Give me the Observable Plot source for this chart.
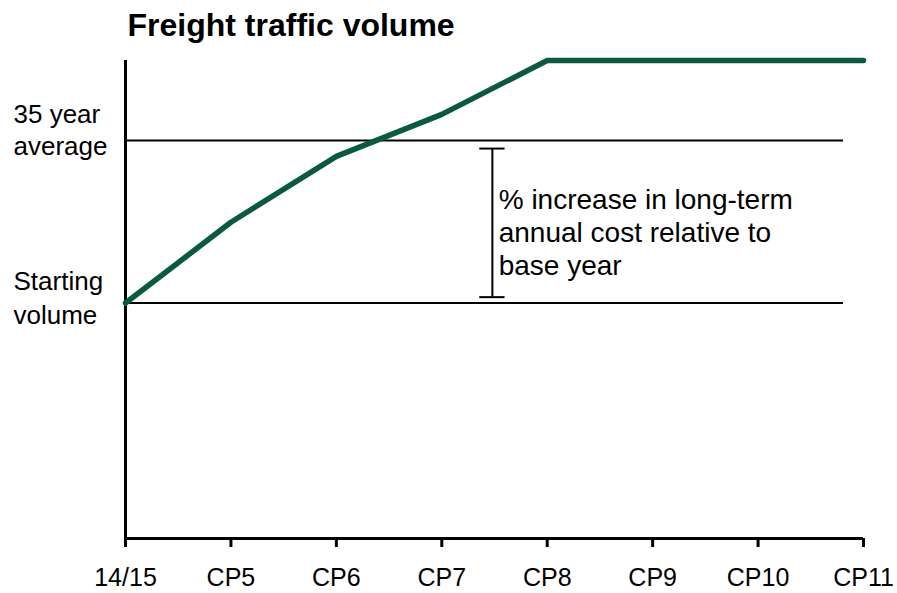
<!DOCTYPE html>
<html>
<head>
<meta charset="utf-8">
<script src="https://cdn.jsdelivr.net/npm/d3@7"></script>
<script src="https://cdn.jsdelivr.net/npm/@observablehq/plot@0.6"></script>
<style>
  html, body { margin: 0; padding: 0; background: #ffffff; }
  #chart { width: 897px; height: 593px; }
</style>
</head>
<body>
<div id="chart"></div>
<script>
// ---- Data ----
const title = "Freight traffic volume";
const periods = ["14/15", "CP5", "CP6", "CP7", "CP8", "CP9", "CP10", "CP11"];
const volume = [100, 134.3, 162.3, 180.1, 203, 203, 203, 203];
const startingVolume = 100;
const averageVolume = 169;
const refLabels = ["Starting\nvolume", "35 year\naverage"];
const bracketX = 3.48;           // position between CP7 and CP8
const bracketCapLeft = 3.36;
const bracketCapRight = 3.60;
const bracketLow = 102.5;
const bracketHigh = 165.6;
const annotationX = 3.54;
const annotationText = "% increase in long-term\nannual cost relative to\nbase year";

const series = periods.map((p, i) => ({i, period: p, value: volume[i]}));

const chart = Plot.plot({
  width: 897,
  height: 593,
  marginLeft: 125,
  marginRight: 34,
  marginTop: 60,
  marginBottom: 55,
  style: {fontFamily: "'Liberation Sans', Arial, sans-serif", color: "#000", background: "#fff"},
  x: {type: "linear", domain: [0, periods.length - 1]},
  y: {domain: [0, 203], axis: null},
  marks: [
    // reference lines
    Plot.ruleY([startingVolume, averageVolume], {stroke: "#000", strokeWidth: 2, insetRight: 20}),
    // axes lines
    Plot.ruleX([0], {stroke: "#000", strokeWidth: 3}),
    Plot.ruleY([0], {stroke: "#000", strokeWidth: 3}),
    Plot.axisX({
      ticks: d3.range(periods.length),
      tickFormat: i => periods[i],
      tickSize: 9,
      tickPadding: 21,
      strokeWidth: 3,
      fontSize: 25,
      label: null
    }),
    // y labels
    Plot.text([averageVolume], {
      y: d => d, text: () => refLabels[1], frameAnchor: "left", dx: -112, dy: -11.5,
      textAnchor: "start", fontSize: 26, lineHeight: 1.2, fill: "#000"
    }),
    Plot.text([startingVolume], {
      y: d => d, text: () => refLabels[0], frameAnchor: "left", dx: -112, dy: -6.7,
      textAnchor: "start", fontSize: 26, lineHeight: 1.3, fill: "#000"
    }),
    // bracket
    Plot.ruleX([bracketX], {y1: bracketLow, y2: bracketHigh, stroke: "#000", strokeWidth: 2}),
    Plot.ruleY([bracketLow, bracketHigh], {x1: bracketCapLeft, x2: bracketCapRight, stroke: "#000", strokeWidth: 2}),
    Plot.text([annotationText], {
      x: annotationX, y: (bracketLow + bracketHigh) / 2, dy: 9,
      textAnchor: "start", fontSize: 28, lineHeight: 1.18, fill: "#000"
    }),
    // main series
    Plot.line(series, {
      x: "i", y: "value", stroke: "#0a5a40", strokeWidth: 5.5,
      strokeLinecap: "round", strokeLinejoin: "round"
    }),
    // title
    Plot.text([title], {
      frameAnchor: "top-left", lineAnchor: "bottom", dx: 2, dy: -25,
      textAnchor: "start", fontSize: 32, fontWeight: "bold", fill: "#000"
    })
  ]
});
document.getElementById("chart").appendChild(chart);
</script>
</body>
</html>
